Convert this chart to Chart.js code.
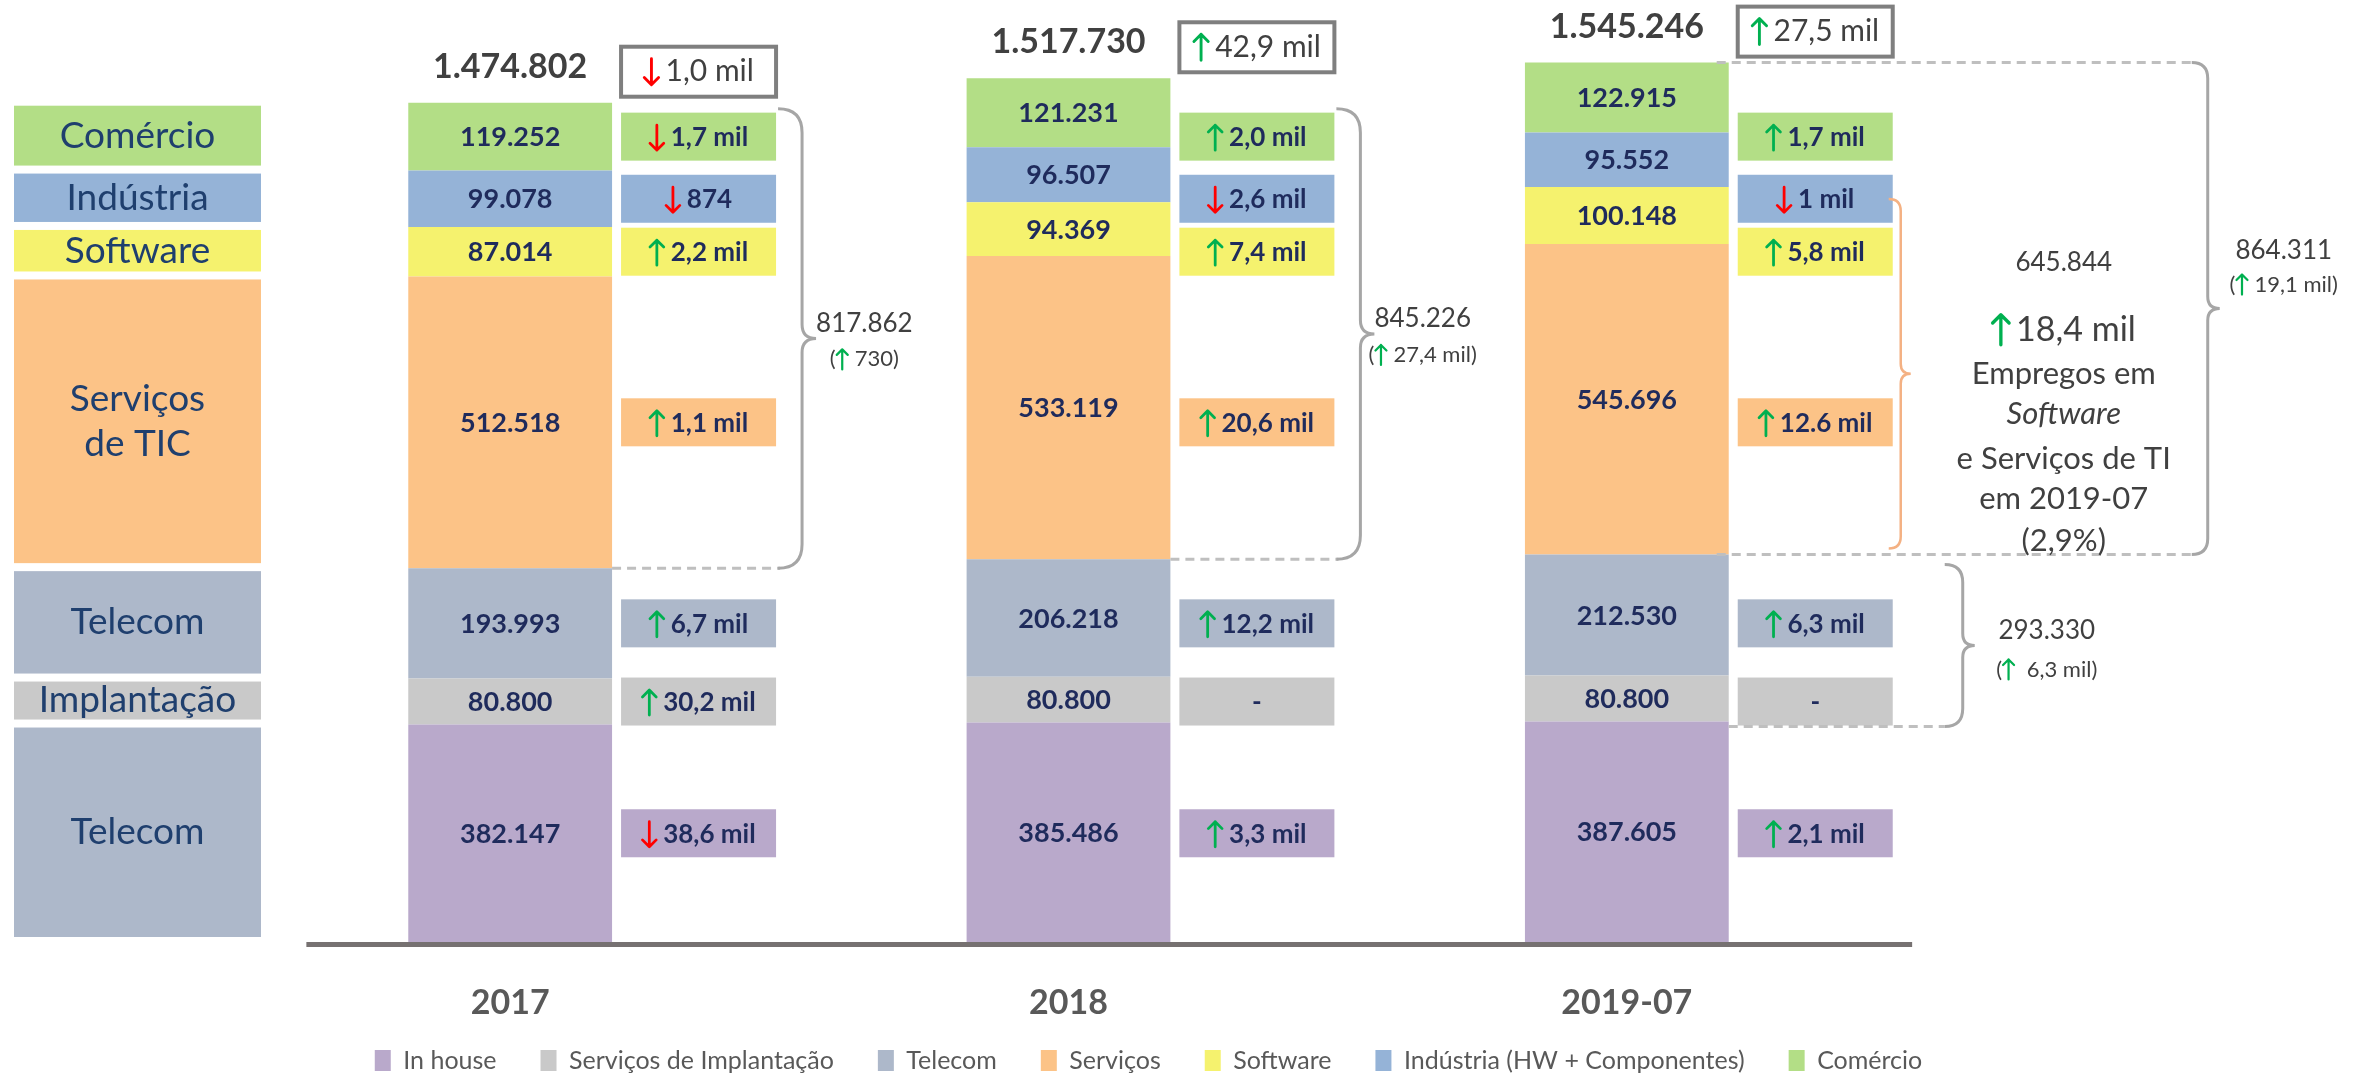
<!DOCTYPE html>
<html lang="pt-BR">
<head>
<meta charset="utf-8">
<title>Empregos em TIC</title>
<script src="https://cdn.jsdelivr.net/npm/chart.js@4.4.1/dist/chart.umd.min.js"></script>
<style>
  html, body { margin: 0; padding: 0; background: #fff; }
  #wrap { width: 2353px; height: 1077px; position: relative; }
</style>
</head>
<body>
<div id="wrap"><canvas id="empregos-chart"></canvas></div>
<script>
// Categorias e séries (de baixo para cima na pilha)
const years = ['2017', '2018', '2019-07'];
const inHouse = [382147, 385486, 387605];
const implantacao = [80800, 80800, 80800];
const telecom = [193993, 206218, 212530];
const servicos = [512518, 533119, 545696];
const software = [87014, 94369, 100148];
const industria = [99078, 96507, 95552];
const comercio = [119252, 121231, 122915];

// Variação em relação ao período anterior
const varInHouse = ['↓38,6 mil', '↑3,3 mil', '↑2,1 mil'];
const varImplantacao = ['↑30,2 mil', '-', '-'];
const varTelecom = ['↑6,7 mil', '↑12,2 mil', '↑6,3 mil'];
const varServicos = ['↑1,1 mil', '↑20,6 mil', '↑12.6 mil'];
const varSoftware = ['↑2,2 mil', '↑7,4 mil', '↑5,8 mil'];
const varIndustria = ['↓874', '↓2,6 mil', '↓1 mil'];
const varComercio = ['↓1,7 mil', '↑2,0 mil', '↑1,7 mil'];
const varTotal = ['↓1,0 mil', '↑42,9 mil', '↑27,5 mil'];
const varDigital = ['(↑730)', '(↑27,4 mil)', '(↑19,1 mil)'];
const varSoftServ = '↑18,4 mil';
const shareSoftServ = '(2,9%)';
const varTelecomTotal = '(↑ 6,3 mil)';
const softServCaption = ['Empregos em', 'Software', 'e Serviços de TI', 'em 2019-07'];

const seriesNames = ['In house', 'Serviços de Implantação', 'Telecom', 'Serviços', 'Software', 'Indústria (HW + Componentes)', 'Comércio'];
const rowLabels = ['Telecom', 'Implantação', 'Telecom', 'Serviços\nde TIC', 'Software', 'Indústria', 'Comércio'];
const seriesColors = ['#B9A9CB', '#C9C9C9', '#ADB8CA', '#FCC387', '#F5F26E', '#95B3D7', '#B3DE86'];
const rowColors = ['#ADB8CA', '#C9C9C9', '#ADB8CA', '#FCC387', '#F5F26E', '#95B3D7', '#B3DE86'];

const seriesValues = [inHouse, implantacao, telecom, servicos, software, industria, comercio];
const seriesVars = [varInHouse, varImplantacao, varTelecom, varServicos, varSoftware, varIndustria, varComercio];

const FONT = 'Lato, "Open Sans", sans-serif';
const NAVY = '#1F2B5C';
const DARK = '#404040';

const fmt = v => String(v).replace(/\B(?=(\d{3})+(?!\d))/g, '.');

function drawArrow(ctx, x, cy, h, up) {
    const w = h * 0.55;
    const top = cy - h / 2, bot = cy + h / 2;
    ctx.save();
    ctx.strokeStyle = up ? '#00B050' : '#FF0000';
    ctx.lineWidth = Math.max(2, h / 9);
    ctx.lineCap = 'round';
    ctx.lineJoin = 'round';
    ctx.beginPath();
    ctx.moveTo(x, top);
    ctx.lineTo(x, bot);
    if (up) {
        ctx.moveTo(x - w / 2, top + w / 2); ctx.lineTo(x, top); ctx.lineTo(x + w / 2, top + w / 2);
    } else {
        ctx.moveTo(x - w / 2, bot - w / 2); ctx.lineTo(x, bot); ctx.lineTo(x + w / 2, bot - w / 2);
    }
    ctx.stroke();
    ctx.restore();
}

// texto com setas (↑ / ↓) desenhadas como traços
function richText(ctx, str, x, cy, font, color, arrowH, align) {
    ctx.font = font;
    const parts = str.split(/([↑↓])/).filter(p => p);
    const aw = arrowH * 0.55 + 8;
    let total = 0;
    parts.forEach(p => { total += (p === '↑' || p === '↓') ? aw : ctx.measureText(p).width; });
    let cx = align === 'left' ? x : x - total / 2;
    ctx.fillStyle = color;
    ctx.textAlign = 'left';
    ctx.textBaseline = 'middle';
    parts.forEach(p => {
        if (p === '↑' || p === '↓') {
            drawArrow(ctx, cx + aw / 2 - 3, cy, arrowH, p === '↑');
            cx += aw;
        } else {
            ctx.fillText(p, cx, cy);
            cx += ctx.measureText(p).width;
        }
    });
    return total;
}

function brace(ctx, x, y1, y2, ym, r, tip) {
    ctx.beginPath();
    ctx.moveTo(x - r, y1);
    ctx.quadraticCurveTo(x, y1, x, y1 + r);
    ctx.lineTo(x, ym - tip);
    ctx.quadraticCurveTo(x, ym, x + tip, ym);
    ctx.quadraticCurveTo(x, ym, x, ym + tip);
    ctx.lineTo(x, y2 - r);
    ctx.quadraticCurveTo(x, y2, x - r, y2);
    ctx.stroke();
}

function dashed(ctx, x1, x2, y) {
    ctx.save();
    ctx.strokeStyle = '#BFBFBF';
    ctx.lineWidth = 3;
    ctx.setLineDash([9, 6]);
    ctx.beginPath();
    ctx.moveTo(x1, y);
    ctx.lineTo(x2, y);
    ctx.stroke();
    ctx.restore();
}

const annotations = {
    id: 'annotations',
    afterLayout(chart) {
        // legenda um pouco à direita, como no original
        chart.legend.left += 80;
        chart.legend.right += 80;
        // não cortar os rótulos do eixo x (que passam por cima da área da legenda)
        chart.scales.x.bottom = chart.height;
    },
    afterDatasetsDraw(chart) {
        const ctx = chart.ctx;
        const seg = (i, j) => {
            const b = chart.getDatasetMeta(i).data[j];
            return { x: b.x, w: b.width, top: Math.min(b.y, b.base), bot: Math.max(b.y, b.base),
                     right: b.x + b.width / 2 };
        };
        const rowMid = seriesValues.map((s, i) => { const g = seg(i, 0); return (g.top + g.bot) / 2; });
        ctx.save();

        // eixo
        const first = seg(0, 0), last = seg(0, years.length - 1);
        ctx.strokeStyle = '#767171';
        ctx.lineWidth = 5;
        ctx.beginPath();
        ctx.moveTo(first.x - first.w, chart.chartArea.bottom + 2.5);
        ctx.lineTo(last.x + last.w * 1.4, chart.chartArea.bottom + 2.5);
        ctx.stroke();

        // rótulos à esquerda
        seriesValues.forEach((s, i) => {
            const g = seg(i, 0);
            const x1 = 14, x2 = chart.chartArea.left + 30;
            const y1 = g.top + 3, y2 = g.bot - 5;
            ctx.fillStyle = rowColors[i];
            ctx.fillRect(x1, y1, x2 - x1, y2 - y1);
            ctx.fillStyle = '#1F3F6E';
            ctx.font = '37px ' + FONT;
            ctx.textAlign = 'center';
            ctx.textBaseline = 'middle';
            const lines = rowLabels[i].split('\n');
            lines.forEach((ln, k) => {
                ctx.fillText(ln, (x1 + x2) / 2, (y1 + y2) / 2 + (k - (lines.length - 1) / 2) * 45);
            });
        });

        // valores dentro das barras
        seriesValues.forEach((s, i) => {
            s.forEach((v, j) => {
                const g = seg(i, j);
                ctx.fillStyle = NAVY;
                ctx.font = 'bold 27px ' + FONT;
                ctx.textAlign = 'center';
                ctx.textBaseline = 'middle';
                ctx.fillText(fmt(v), g.x, (g.top + g.bot) / 2 + 1);
            });
        });

        // caixas de variação
        seriesVars.forEach((vars, i) => {
            vars.forEach((t, j) => {
                const g = seg(i, j);
                const bx = g.right + 9, bw = 155, bh = 48;
                ctx.fillStyle = seriesColors[i];
                ctx.fillRect(bx, rowMid[i] - bh / 2, bw, bh);
                richText(ctx, t, bx + bw / 2, rowMid[i] + 1, 'bold 26px ' + FONT, NAVY, 25);
            });
        });

        // totais
        years.forEach((y, j) => {
            const total = seriesValues.reduce((a, s) => a + s[j], 0);
            const g = seg(6, j);
            const ty = g.top - 36;
            ctx.fillStyle = DARK;
            ctx.font = 'bold 34px ' + FONT;
            ctx.textAlign = 'center';
            ctx.textBaseline = 'middle';
            ctx.fillText(fmt(total), g.x, ty);
            const bx = g.right + 9, bw = 155, bh = 50;
            ctx.fillStyle = '#fff';
            ctx.fillRect(bx, ty + 5 - bh / 2, bw, bh);
            ctx.strokeStyle = '#7F7F7F';
            ctx.lineWidth = 4;
            ctx.strokeRect(bx, ty + 5 - bh / 2, bw, bh);
            richText(ctx, varTotal[j], bx + bw / 2, ty + 5, '30px ' + FONT, DARK, 26);
        });

        // chaves 2017 e 2018
        [0, 1].forEach(j => {
            const digital = servicos[j] + software[j] + industria[j] + comercio[j];
            const g = seg(3, j);
            const x = g.right + 190;
            const top = rowMid[6] - 28, bot = g.bot;
            const ym = (top + bot) / 2;
            dashed(ctx, g.right, x - 22, bot);
            ctx.strokeStyle = '#A6A6A6';
            ctx.lineWidth = 3;
            brace(ctx, x, top, bot, ym, 24, 14);
            ctx.font = '26px ' + FONT;
            const w = ctx.measureText(fmt(digital)).width;
            ctx.fillStyle = DARK;
            ctx.textAlign = 'left';
            ctx.textBaseline = 'middle';
            ctx.fillText(fmt(digital), x + 14, ym - 15);
            richText(ctx, varDigital[j], x + 14 + w / 2, ym + 21, '22px ' + FONT, DARK, 20);
        });

        // 2019-07: chave externa tracejada
        const j = 2;
        const gTop = seg(6, j), gServ = seg(3, j), gSoft = seg(4, j), gTel = seg(2, j), gImp = seg(1, j);
        const digital = servicos[j] + software[j] + industria[j] + comercio[j];
        {
            const x = gTop.right + 479, r = 16;
            const top = gTop.top, bot = gServ.bot, ym = (top + bot) / 2;
            dashed(ctx, gTop.right - 12, x - r, top);
            dashed(ctx, gTop.right - 12, x - r, bot);
            ctx.strokeStyle = '#A6A6A6';
            ctx.lineWidth = 3;
            brace(ctx, x, top, bot, ym, r, 12);
            ctx.fillStyle = DARK;
            ctx.font = '26px ' + FONT;
            ctx.textAlign = 'center';
            ctx.textBaseline = 'middle';
            ctx.fillText(fmt(digital), x + 76, ym - 58);
            richText(ctx, varDigital[j], x + 76, ym - 24, '22px ' + FONT, DARK, 20);
        }
        // chave laranja: Software + Serviços
        {
            const x = gTop.right + 172;
            const top = gSoft.top + 12, bot = gServ.bot - 6, ym = (top + bot) / 2;
            ctx.strokeStyle = '#F4B183';
            ctx.lineWidth = 2.5;
            brace(ctx, x, top, bot, ym, 12, 10);
            const cx = gTop.right + 335;
            ctx.fillStyle = DARK;
            ctx.textAlign = 'center';
            ctx.textBaseline = 'middle';
            ctx.font = '26px ' + FONT;
            ctx.fillText(fmt(software[j] + servicos[j]), cx, ym - 111);
            richText(ctx, varSoftServ, cx, ym - 44, '34px ' + FONT, DARK, 30);
            ctx.fillStyle = DARK;
            ctx.textAlign = 'center';
            const offs = [0, 40, 85, 125];
            softServCaption.forEach((ln, k) => {
                ctx.font = (k === 1 ? 'italic ' : '') + '31px ' + FONT;
                ctx.fillText(ln, cx, ym + offs[k]);
            });
            ctx.font = '31px ' + FONT;
            ctx.fillText(shareSoftServ, cx, ym + 167);
        }
        // chave inferior: Telecom + Implantação
        {
            const x = gTop.right + 234, r = 18;
            const top = gTel.top + 10, bot = gImp.bot + 5, ym = (top + bot) / 2;
            dashed(ctx, gTop.right, x - r, bot);
            ctx.strokeStyle = '#A6A6A6';
            ctx.lineWidth = 3;
            brace(ctx, x, top, bot, ym, r, 12);
            ctx.fillStyle = DARK;
            ctx.font = '26px ' + FONT;
            ctx.textAlign = 'center';
            ctx.textBaseline = 'middle';
            ctx.fillText(fmt(telecom[j] + implantacao[j]), x + 84, ym - 15);
            richText(ctx, varTelecomTotal, x + 84, ym + 24, '22px ' + FONT, DARK, 20);
        }
        ctx.restore();
    }
};

const empregosChart = document.getElementById('empregos-chart').getContext('2d');
const empregosData = {
    labels: years,
    datasets: seriesValues.map((values, i) => ({
        label: seriesNames[i],
        data: values,
        backgroundColor: seriesColors[i],
        borderWidth: 0,
        categoryPercentage: 1,
        barPercentage: 0.365
    }))
};
const empregosOptions = {
    responsive: true,
    maintainAspectRatio: false,
    animation: false,
    layout: { padding: { left: 231, right: 447, top: 3, bottom: -6 } },
    plugins: {
        tooltip: { enabled: false },
        legend: {
            position: 'bottom',
            labels: {
                color: '#595959',
                font: { family: FONT, size: 25 },
                boxWidth: 16,
                boxHeight: 21,
                padding: 44
            }
        }
    },
    scales: {
        x: {
            stacked: true,
            grid: { display: false, drawTicks: false },
            border: { display: false },
            ticks: { color: '#595959', font: { family: FONT, size: 34, weight: 'bold' }, padding: 41 },
            afterFit(scale) { scale.height = 62; }
        },
        y: {
            stacked: true,
            display: false,
            min: 0,
            max: 1650000
        }
    }
};
const empregosChartInstance = new Chart(empregosChart, {
    type: 'bar',
    data: empregosData,
    options: empregosOptions,
    plugins: [annotations]
});
</script>
</body>
</html>
